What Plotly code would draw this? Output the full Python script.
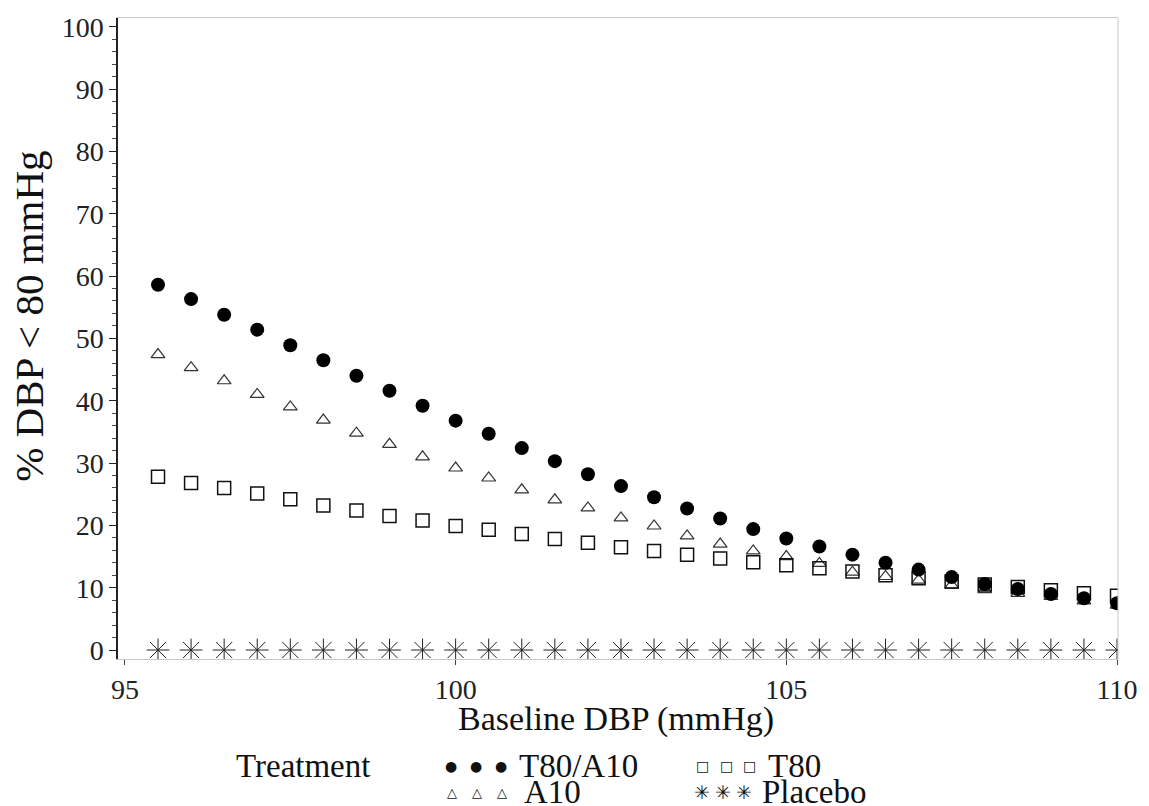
import plotly.graph_objects as go

# ---------------- data ----------------
baseline_dbp = [95.5, 96.0, 96.5, 97.0, 97.5, 98.0, 98.5, 99.0, 99.5, 100.0,
                100.5, 101.0, 101.5, 102.0, 102.5, 103.0, 103.5, 104.0, 104.5, 105.0,
                105.5, 106.0, 106.5, 107.0, 107.5, 108.0, 108.5, 109.0, 109.5, 110.0]

t80_a10 = [58.6, 56.3, 53.8, 51.4, 48.9, 46.5, 44.0, 41.6, 39.2, 36.8,
           34.7, 32.4, 30.3, 28.2, 26.3, 24.5, 22.7, 21.1, 19.4, 17.9,
           16.6, 15.3, 14.0, 12.9, 11.7, 10.6, 9.8, 9.0, 8.3, 7.5]

t80 = [27.8, 26.8, 26.0, 25.1, 24.2, 23.2, 22.4, 21.5, 20.8, 19.9,
       19.3, 18.6, 17.8, 17.2, 16.5, 15.9, 15.3, 14.7, 14.1, 13.6,
       13.1, 12.6, 12.0, 11.5, 11.0, 10.5, 10.1, 9.6, 9.1, 8.7]

a10 = [47.4, 45.3, 43.2, 41.0, 39.0, 36.9, 34.8, 33.0, 31.0, 29.2,
       27.6, 25.7, 24.1, 22.8, 21.2, 19.9, 18.3, 17.0, 15.9, 15.0,
       13.9, 12.5, 11.8, 11.2, 10.4, 9.7, 9.1, 8.6, 7.9, 7.2]

placebo = [0.0] * 30

y_ticks = [0, 10, 20, 30, 40, 50, 60, 70, 80, 90, 100]
x_ticks = [95, 100, 105, 110]

x_title = "Baseline DBP (mmHg)"
y_title = "% DBP < 80 mmHg"
legend_title = "Treatment"
legend_names = ["T80/A10", "T80", "A10", "Placebo"]

# ---------------- figure ----------------
SERIF = "Liberation Serif, Times New Roman, serif"
SYM = "DejaVu Sans"
W, H = 1149, 806
ML, MR, MT, MB = 118, 23, 14, 147

fig = go.Figure()

fig.add_trace(go.Scatter(
    x=baseline_dbp, y=placebo, mode="markers", name="Placebo",
    marker=dict(symbol="asterisk-open", size=19, color="#222",
                line=dict(width=1, color="#222"))))
fig.add_trace(go.Scatter(
    x=baseline_dbp, y=a10, mode="markers", name="A10",
    marker=dict(symbol="triangle-up-open", size=12, color="#333",
                line=dict(width=1.2, color="#333"))))
fig.add_trace(go.Scatter(
    x=baseline_dbp, y=t80, mode="markers", name="T80",
    marker=dict(symbol="square-open", size=13, color="#111",
                line=dict(width=1.5, color="#111"))))
fig.add_trace(go.Scatter(
    x=baseline_dbp, y=t80_a10, mode="markers", name="T80/A10",
    marker=dict(symbol="circle", size=14, color="#000",
                line=dict(width=0))))

fig.update_layout(
    width=W, height=H,
    margin=dict(l=ML, r=MR, t=MT, b=MB),
    paper_bgcolor="white", plot_bgcolor="white",
    showlegend=False,
    font=dict(family=SERIF, color="#222"),
)

fig.update_xaxes(
    range=[94.895, 110.015],
    tickmode="array", tickvals=x_ticks, ticktext=[str(v) for v in x_ticks],
    ticks="outside", ticklen=5, tickcolor="#444", tickwidth=1,
    showgrid=False, zeroline=False,
    showline=True, linecolor="#c8c8c8", linewidth=1, mirror=True,
    tickfont=dict(family=SERIF, size=28, color="#222"),
)
fig.update_yaxes(
    range=[-1.44, 101.4],
    tickmode="array", tickvals=y_ticks, ticktext=[str(v) for v in y_ticks],
    ticks="outside", ticklen=7, tickcolor="#222", tickwidth=1.2,
    minor=dict(dtick=2, ticks="outside", ticklen=4, tickcolor="#444", tickwidth=1),
    showgrid=False, zeroline=False,
    showline=True, linecolor="#222", linewidth=1.5, mirror=False,
    tickfont=dict(family=SERIF, size=28, color="#222"),
)

# right frame line (light gray, like the top)
fig.add_shape(type="line", xref="paper", yref="paper", x0=1, x1=1, y0=0, y1=1,
              line=dict(color="#c8c8c8", width=1))

pw = W - ML - MR
ph = H - MT - MB
def px(xp):
    return (xp - ML) / pw
def py(yp):
    return (H - MB - yp) / ph

def ann(text, x, y, size=33, family=SERIF, xanchor="left", angle=0):
    fig.add_annotation(text=text, xref="paper", yref="paper", x=px(x), y=py(y),
                       xanchor=xanchor, yanchor="middle", showarrow=False,
                       textangle=angle, borderpad=0,
                       font=dict(family=family, size=size, color="#111"))

# axis titles
ann(x_title, 620, 719, size=34, xanchor="center")
ann(y_title, 28, 314, size=41, xanchor="center", angle=-90)

# legend (drawn as text)
LF = 33
ann(legend_title, 236, 767, size=LF)
for gx in (454, 479, 504):
    ann("\u25CF", gx, 767, size=14, family=SYM, xanchor="center")
ann(legend_names[0], 521, 767, size=LF)
for gx in (707, 731, 755):
    ann("\u25A1", gx, 767, size=14, family=SYM, xanchor="center")
ann(legend_names[1], 772, 767, size=LF)
for gx in (455, 480, 505):
    ann("\u25B3", gx, 793, size=13, family=SYM, xanchor="center")
ann(legend_names[2], 526, 793, size=LF)
for gx in (707, 728, 749):
    ann("\u2733", gx, 793, size=19, family=SYM, xanchor="center")
ann(legend_names[3], 766, 793, size=LF)

fig.write_html(
    "out.html",
    config={"displayModeBar": False},
    post_script="document.body.style.margin='0';"
                "document.documentElement.style.overflow='hidden';",
)
